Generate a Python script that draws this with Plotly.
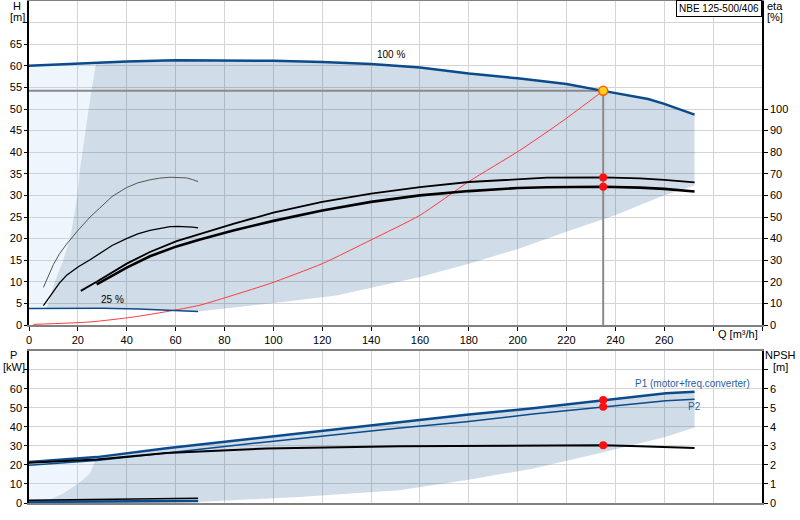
import plotly.graph_objects as go

# ---------- data ----------
# head at 100 % speed
q_h100 = [0, 20, 27.5, 40, 60, 80, 100, 120, 140, 160, 180, 200, 220, 235, 253.4, 260, 272.4]
h_100 = [60, 60.5, 60.8, 61, 61.3, 61.3, 61.15, 60.9, 60.4, 59.6, 58.2, 57.1, 55.8, 54.2, 52.3, 51.2, 48.7]

# head at 25 % speed
q_h25 = [0, 15, 30, 45, 58, 69.2]
h_25 = [3.8, 3.85, 3.85, 3.7, 3.45, 3.1]

# system curve (red)
q_sys = [1.8, 24.9, 42.7, 56.3, 70, 83.6, 98.6, 120, 140, 160, 180, 200.8, 218.6, 235]
h_sys = [0.15, 0.7, 1.85, 3.1, 4.6, 6.9, 9.6, 14.2, 19.7, 25.4, 33.2, 40.4, 47.3, 54.2]

# efficiency at 100 % speed: pump, and total
q_eta_pump = [21.2, 27.7, 40, 49.5, 60.4, 70, 83.6, 100, 120, 140, 160, 180, 200, 212, 235, 250, 260, 272.4]
eta_pump = [15.8, 20, 28.4, 33.8, 38.8, 42.2, 46.8, 52, 57, 60.8, 63.8, 66.2, 67.4, 68.2, 68.3, 67.9, 67.2, 66]
q_eta_tot = [27.7, 40, 49.5, 60.4, 70, 83.6, 100, 120, 140, 160, 180, 200, 212, 235, 250, 260, 272.4]
eta_tot = [18.8, 26.6, 31.8, 36.4, 39.6, 43.8, 48.2, 53, 57, 60, 62, 63.4, 63.8, 64, 63.6, 63, 61.8]

# efficiency at 25 % speed
q_eta25 = [5.9, 8, 10, 12.5, 15.4, 20.2, 25, 29, 34, 39.9, 44.5, 49.5, 53.5, 57.7, 61, 64.5, 67, 69.2]
eta_pump25 = [17.4, 23, 28, 33, 37.5, 44, 50, 54.2, 59.5, 63.6, 65.8, 67.2, 68, 68.4, 68.4, 68.1, 67.3, 66.4]
eta_tot25 = [9, 12.5, 15.5, 19.5, 23, 27, 30.2, 33, 36.8, 40, 42.2, 43.8, 44.8, 45.5, 45.7, 45.6, 45.3, 45]

# operating range limits (head chart)
q_minflow = [7, 7.9, 10.6, 14, 16.8, 18.4, 19.8, 20.8, 24.9, 27.5]
h_minflow = [3.85, 5, 10, 15, 20, 25, 30, 35.8, 51.9, 60.8]
q_hlow = [272.4, 259.8, 239.8, 219.6, 199.5, 180, 160, 125.8, 98.6, 69.2]
h_hlow = [32.3, 30, 25.4, 21.5, 17.5, 14.2, 11.1, 6.8, 5, 3.1]

# power and NPSH
q_p1 = [0, 27.7, 56.3, 78, 97.2, 151.7, 179, 206.3, 235, 260.7, 272.4]
p_1 = [21.5, 24.1, 28.7, 31.8, 34.9, 42.7, 46.3, 49.8, 54.1, 57.6, 58.5]
q_p2 = [0, 27.7, 56.3, 97.2, 151.7, 179, 206.3, 235, 260.7, 272.4]
p_2 = [19.8, 22.3, 26.3, 32.1, 39.4, 42.7, 46.7, 50.5, 53.7, 54.5]
q_npsh = [0, 27.7, 56.3, 97.2, 151.7, 206.3, 235, 250, 272.4]
npsh = [2.12, 2.28, 2.63, 2.86, 2.98, 3.03, 3.03, 2.98, 2.89]
q_25b = [0, 69.2]
p1_25 = [0.6, 1.0]
p2_25 = [0.4, 0.8]
npsh_25 = [0.14, 0.25]

# operating range limits (power chart)
q_pmin = [4.5, 8.6, 14, 20.2, 24.9, 27.7]
p_pmin = [0.7, 1.9, 5, 10.2, 15.4, 24.1]
q_plow = [272.4, 260.4, 233, 205.9, 178.6, 151.4, 110.6, 69]
p_plow = [39.6, 34.7, 26, 18, 11.9, 6.7, 3.2, 0.5]

# duty point
q_duty = 235
h_duty = 54.2
eta_duty = [68.3, 64.0]
p_duty = [54.1, 50.5]
npsh_duty = 3.03

q_ticks = list(range(0, 301, 20))
q_labels = [str(v) for v in range(0, 261, 20)] + ["", ""]
h_ticks = list(range(0, 71, 5))
h_labels = [str(v) for v in range(0, 66, 5)] + [""]
eta_ticks = list(range(0, 101, 10))
p_ticks = list(range(0, 71, 10))
p_labels = [str(v) for v in range(0, 61, 10)] + [""]
npsh_ticks = list(range(0, 8))
npsh_labels = [str(v) for v in range(0, 7)] + [""]

BLUE = "#0b4a8b"
GRID = "#d4d4d4"
DARK_FILL = "rgba(20,80,140,0.2)"
LIGHT_FILL = "rgba(170,205,245,0.2)"
FONT = dict(family="Liberation Sans, Arial, sans-serif", size=10, color="black")
TICKFONT = dict(FONT, size=11)

# ---------- shaded areas ----------
top_hi = [(q, h) for q, h in zip(q_h100, h_100) if q >= q_minflow[-1]]
top_lo = [(q, h) for q, h in zip(q_h25, h_25) if q_minflow[0] < q < q_hlow[-1]][::-1]
dark_q = q_minflow + [p[0] for p in top_hi] + q_hlow + [p[0] for p in top_lo] + [q_minflow[0]]
dark_h = h_minflow + [p[1] for p in top_hi] + h_hlow + [p[1] for p in top_lo] + [h_minflow[0]]

left_hi = [(q, h) for q, h in zip(q_h100, h_100) if q <= q_minflow[-1]]
light_q = [q_h25[0]] + [p[0] for p in left_hi] + q_minflow[::-1] + [q_h25[0]]
light_h = [h_25[0]] + [p[1] for p in left_hi] + h_minflow[::-1] + [h_25[0]]

bot_hi = [(q, p) for q, p in zip(q_p1, p_1) if q > q_pmin[-1]]
bdark_q = q_pmin + [p[0] for p in bot_hi] + q_plow + [q_pmin[0]]
bdark_p = p_pmin + [p[1] for p in bot_hi] + p_plow + [p_pmin[0]]
bleft_hi = [(q, p) for q, p in zip(q_p1, p_1) if q <= q_pmin[-1]]
blight_q = [0] + [p[0] for p in bleft_hi] + q_pmin[::-1] + [0]
blight_p = [npsh_25[0] * 10] + [p[1] for p in bleft_hi] + p_pmin[::-1] + [npsh_25[0] * 10]

fig = go.Figure()


def add(x, y, xa="x", ya="y", **kw):
    fig.add_trace(go.Scatter(x=x, y=y, xaxis=xa, yaxis=ya, hoverinfo="skip",
                             showlegend=False, **kw))


add(light_q, light_h, fill="toself", fillcolor=LIGHT_FILL, mode="none")
add(dark_q, dark_h, fill="toself", fillcolor=DARK_FILL, mode="none")
add(blight_q, blight_p, "x2", "y3", fill="toself", fillcolor=LIGHT_FILL, mode="none")
add(bdark_q, bdark_p, "x2", "y3", fill="toself", fillcolor=DARK_FILL, mode="none")

# duty point guide lines
add([0, q_duty], [h_duty, h_duty], mode="lines", line=dict(color="#8a8a8a", width=2))
add([q_duty, q_duty], [h_duty, 0], mode="lines", line=dict(color="#8a8a8a", width=2))

# head chart curves
add(q_sys, h_sys, mode="lines", line=dict(color="#ff3b3b", width=1, shape="spline", smoothing=0.6))
add(q_h25, h_25, mode="lines", line=dict(color=BLUE, width=1.5))
add(q_h100, h_100, mode="lines", line=dict(color=BLUE, width=2.5))
add(q_eta25, eta_pump25, ya="y2", mode="lines", line=dict(color="#555555", width=1))
add(q_eta25, eta_tot25, ya="y2", mode="lines", line=dict(color="black", width=1.3))
add(q_eta_pump, eta_pump, ya="y2", mode="lines", line=dict(color="black", width=1.8))
add(q_eta_tot, eta_tot, ya="y2", mode="lines", line=dict(color="black", width=2.6))

# power / NPSH chart curves
add(q_25b, npsh_25, "x2", "y4", mode="lines", line=dict(color="black", width=1.5))
add(q_25b, p2_25, "x2", "y3", mode="lines", line=dict(color="#7f8fa0", width=1))
add(q_25b, p1_25, "x2", "y3", mode="lines", line=dict(color=BLUE, width=2.5))
add(q_p2, p_2, "x2", "y3", mode="lines", line=dict(color=BLUE, width=1.5))
add(q_p1, p_1, "x2", "y3", mode="lines", line=dict(color=BLUE, width=2.5))
add(q_npsh, npsh, "x2", "y4", mode="lines", line=dict(color="black", width=2))

# duty point markers
red_dot = dict(color="#ff1010", size=8)
add([q_duty] * 2, eta_duty, ya="y2", mode="markers", marker=red_dot)
add([q_duty], [h_duty], mode="markers",
    marker=dict(color="#ffd21a", size=9, line=dict(color="#ff5a00", width=1.5)))
add([q_duty] * 2, p_duty, "x2", "y3", mode="markers", marker=red_dot)
add([q_duty], [npsh_duty], "x2", "y4", mode="markers", marker=red_dot)

L, R, T, B = 29, 38, 1, 17


def px(x):
    return (x - L) / (800 - L - R)


def py(y):
    return (520 - B - y) / (520 - T - B)


xcommon = dict(range=[0, 300], tickvals=q_ticks, showgrid=True, gridcolor=GRID,
               gridwidth=1, zeroline=False, showline=True, linecolor="#808080",
               linewidth=2, mirror=True, tickfont=TICKFONT, automargin=False)
ycommon = dict(showgrid=True, gridcolor=GRID, gridwidth=1, zeroline=False,
               showline=True, linecolor="black", linewidth=1.5, ticks="outside",
               ticklen=3, tickcolor="black", tickfont=TICKFONT, automargin=False)

fig.update_layout(
    width=800, height=520,
    margin=dict(l=L, r=R, t=T, b=B, autoexpand=False),
    paper_bgcolor="white", plot_bgcolor="white",
    font=FONT,
    xaxis=dict(xcommon, anchor="y", ticktext=q_labels, ticks="outside", ticklen=4,
               tickcolor="black"),
    xaxis2=dict(xcommon, anchor="y3", matches="x", showticklabels=False, ticks=""),
    yaxis=dict(ycommon, domain=[py(325), 1], range=[0, 75], tickvals=h_ticks,
               ticktext=h_labels),
    yaxis2=dict(ycommon, overlaying="y", anchor="x", side="right", range=[0, 150],
                tickvals=eta_ticks, showgrid=False, ticklen=4),
    yaxis3=dict(ycommon, domain=[0, py(350.7)], anchor="x2", range=[0, 80],
                tickvals=p_ticks, ticktext=p_labels),
    yaxis4=dict(ycommon, overlaying="y3", anchor="x2", side="right", range=[0, 8],
                tickvals=npsh_ticks, ticktext=npsh_labels, showgrid=False, ticklen=4),
)

notes = [
    ("H", px(17), py(6)), ("[m]", px(17), py(17.5)),
    ("eta", px(775), py(6)), ("[%]", px(775), py(17)),
    ("Q [m³/h]", px(738), py(334)),
    ("P", px(14), py(355)), ("[kW]", px(14), py(367)),
    ("NPSH", px(780), py(355)), ("[m]", px(780), py(367)),
]
for text, x, y in notes:
    fig.add_annotation(text=text, x=x, y=y, xref="paper", yref="paper",
                       xanchor="center", yanchor="middle", showarrow=False,
                       font=TICKFONT)

fig.add_annotation(text="NBE 125-500/406", x=1, y=py(0), xref="paper", yref="paper",
                   xanchor="right", yanchor="top", showarrow=False, font=FONT,
                   bordercolor="black", borderwidth=1, borderpad=2, bgcolor="white")
fig.add_annotation(text="100 %", x=148, y=62.7, xref="x", yref="y", showarrow=False, font=FONT)
fig.add_annotation(text="25 %", x=34.3, y=5.9, xref="x", yref="y", showarrow=False, font=FONT)
fig.add_annotation(text="P1 (motor+freq.converter)", x=296, y=62.7, xref="x2", yref="y3",
                   xanchor="right", showarrow=False, font=dict(FONT, color="#1f5f9f"))
fig.add_annotation(text="P2", x=272.4, y=50.9, xref="x2", yref="y3",
                   showarrow=False, font=dict(FONT, color="#1f5f9f"))

fig.write_html("out.html", config={"displayModeBar": False},
               post_script="document.body.style.margin='0';")
